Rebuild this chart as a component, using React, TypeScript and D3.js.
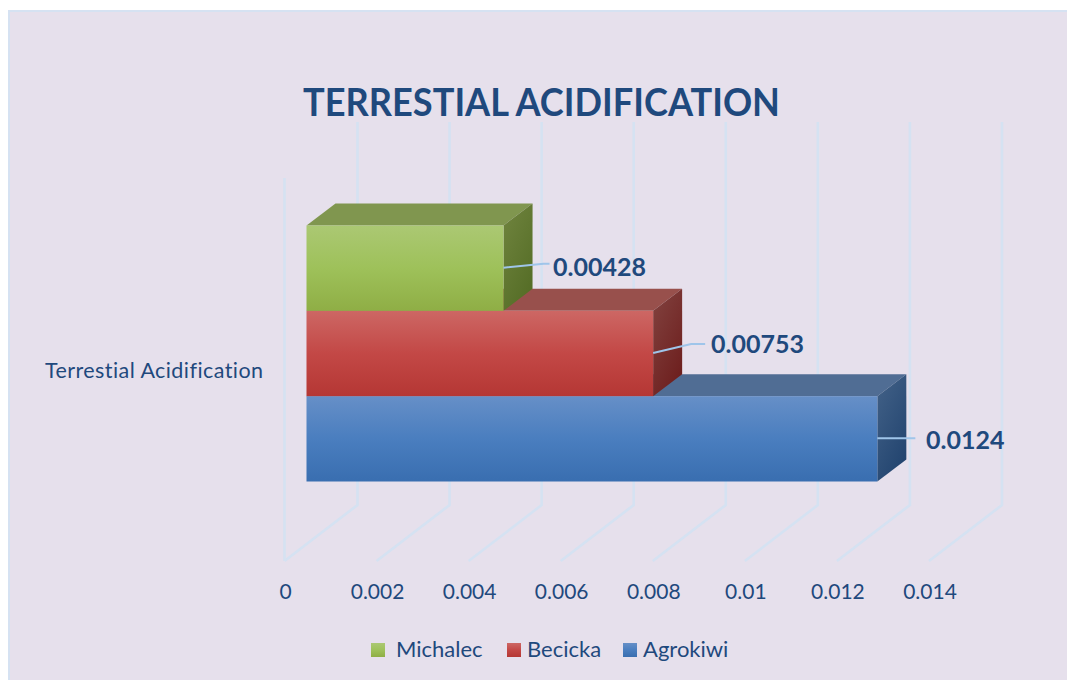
import React from "react";
import * as d3 from "d3";

const titleText = "TERRESTIAL ACIDIFICATION";
const categoryLabel = "Terrestial Acidification";
const seriesNames = ["Michalec", "Becicka", "Agrokiwi"];
const seriesValues = [0.00428, 0.00753, 0.0124];
const valueLabels = ["0.00428", "0.00753", "0.0124"];
const tickValues = [0, 0.002, 0.004, 0.006, 0.008, 0.01, 0.012, 0.014];
const tickLabels = ["0", "0.002", "0.004", "0.006", "0.008", "0.01", "0.012", "0.014"];

const frontFace = [
  ["#abc873", "#9ec15a", "#8fae45"],
  ["#cd6764", "#c34846", "#b53734"],
  ["#668fc7", "#4a7ebf", "#396eb0"],
];
const topFace = ["#80964f", "#98504c", "#506d94"];
const sideFace = [
  ["#70843f", "#566e27"],
  ["#824340", "#6e201f"],
  ["#436288", "#234570"],
];
const legendX = [371, 507, 623];
const legendTextX = [396, 527, 643];
const labelX = [553, 711, 926];
const labelY = [276, 353, 449];
const leaderPts = [
  [[0, 0], [40, -4], [46, -4]],
  [[0, 0], [38, -9], [52, -9]],
  [[0, 0], [38, 0]],
];

const FONT = "Lato, Carlito, 'Open Sans', sans-serif";
const GRID = "#d5e2f2";
const INK = "#1f497d";

export default function App() {
  const x = d3.scaleLinear().domain([0, 0.014]).range([284.5, 929]);
  const depthX = 73, depthY = -56, floorY = 561, topY = 122, frontTopY = 178;
  const barInset = 22;
  const bandY = d3.scaleBand().domain(seriesNames).range([225.5, 481.5]).padding(0);
  const dx = 29, dy = -22;
  const line = d3.line();
  return (
    <svg width={1067} height={680} style={{ position: "absolute", left: 0, top: 0, fontFamily: FONT, fontVariantLigatures: "none" }}>
      <defs>
        {seriesNames.map((_, i) => (
          <React.Fragment key={i}>
            <linearGradient id={`f${i}`} x1="0" y1="0" x2="0" y2="1">
              <stop offset="0" stopColor={frontFace[i][0]} />
              <stop offset="0.5" stopColor={frontFace[i][1]} />
              <stop offset="1" stopColor={frontFace[i][2]} />
            </linearGradient>
            <linearGradient id={`s${i}`} x1="0" y1="0" x2="0.6" y2="1">
              <stop offset="0" stopColor={sideFace[i][0]} />
              <stop offset="1" stopColor={sideFace[i][1]} />
            </linearGradient>
          </React.Fragment>
        ))}
      </defs>
      <rect x={9} y={11} width={1070} height={680} fill="#e6e0ec" stroke="#d6e2f2" strokeWidth={2} />
      <text x={303} y={116} textLength={477} lengthAdjust="spacingAndGlyphs" fontSize={38} fontWeight={700} fill={INK}>{titleText}</text>

      {tickValues.map((t, i) => (
        <path
          key={i}
          d={line([[x(t), floorY], [x(t) + depthX, floorY + depthY], [x(t) + depthX, topY]]) ?? ""}
          fill="none" stroke={GRID} strokeWidth={2.6}
        />
      ))}
      <path d={line([[x(0), floorY], [x(0), frontTopY]]) ?? ""} stroke={GRID} strokeWidth={2.6} fill="none" />

      {[2, 1, 0].map((i) => {
        const name = seriesNames[i];
        const x0 = x(0) + barInset;
        const x1 = x(seriesValues[i]) + barInset;
        const y0 = bandY(name)!;
        const y1 = y0 + bandY.bandwidth();
        return (
          <g key={name}>
            <path d={line([[x0, y0], [x0 + dx, y0 + dy], [x1 + dx, y0 + dy], [x1, y0]])! + "Z"} fill={topFace[i]} />
            <path d={line([[x1, y0], [x1 + dx, y0 + dy], [x1 + dx, y1 + dy], [x1, y1]])! + "Z"} fill={`url(#s${i})`} />
            <rect x={x0} y={y0} width={x1 - x0} height={y1 - y0} fill={`url(#f${i})`} />
          </g>
        );
      })}

      {seriesNames.map((name, i) => {
        const lx = x(seriesValues[i]) + barInset;
        const ly = bandY(name)! + bandY.bandwidth() / 2 - 0.5;
        return (
          <g key={name}>
            <path
              d={line(leaderPts[i].map(([a, b]) => [lx + a, ly + b] as [number, number])) ?? ""}
              fill="none" stroke="#9fc5ea" strokeWidth={2}
            />
            <text x={labelX[i]} y={labelY[i]} fontSize={25} fontWeight={700} fill={INK}>{valueLabels[i]}</text>
          </g>
        );
      })}

      <text x={45} y={378} textLength={218} lengthAdjust="spacing" fontSize={21.5} fill={INK}>{categoryLabel}</text>
      {tickValues.map((t, i) => (
        <text key={i} x={x(t) + 1} y={599} textAnchor="middle" fontSize={21} fill={INK}>{tickLabels[i]}</text>
      ))}
      {seriesNames.map((name, i) => (
        <g key={name}>
          <rect x={legendX[i]} y={643} width={14} height={14} fill={`url(#f${i})`} />
          <text x={legendTextX[i]} y={657} fontSize={22} fill={INK}>{name}</text>
        </g>
      ))}
    </svg>
  );
}
